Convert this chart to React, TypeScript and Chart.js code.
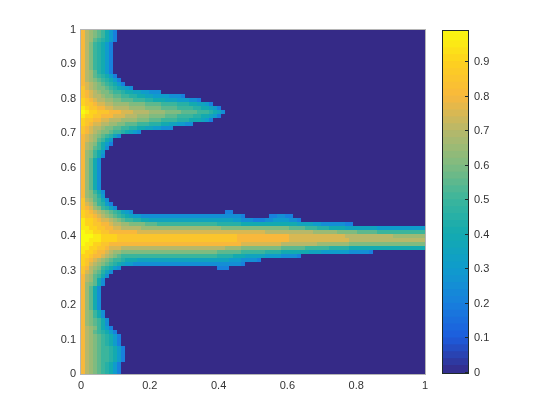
import React, { useEffect, useRef } from "react";
import { Chart, registerables } from "chart.js";

Chart.register(...registerables);

const GRID_SIZE = 86;
const LEVEL_CODES = "0123456789abcdefghijk";
const LEVEL_STEP = 0.05;
const DATA_MAX = 0.99;

// One string per row, top row first, one character per cell; cells after the end of a string are 0.
const HEAT_ROWS: string[] = [
  "gedcba864",
  "gedcba864",
  "gedba9864",
  "geca9864",
  "geca9864",
  "geca9864",
  "geca9864",
  "geca9864",
  "geca9864",
  "geca9864",
  "gedb9864",
  "gedba9864",
  "gedcba9864",
  "gfedcba9864",
  "hfedccba98765",
  "hgfedccbaa9887766555",
  "hgfeedccbbaa99887766665554",
  "ihgfeeddccbbbaaa99888777666554",
  "ihhgffeedd" + "ddccccbbbb" + "aaaa999887" + "764",
  "jihhggffee" + "eeddddcccc" + "bbbbaaaa99" + "887" + "64",
  "kjiihhhggg" + "fffeeeeddd" + "dccccbbbba" + "aa9875",
  "jiihhgggff" + "feeedddccc" + "cbbbaaaa99" + "887" + "64",
  "ihhggffeee" + "ddddcccbbb" + "aaaa999888" + "764",
  "ihgffeeddc" + "cbbbaaa999" + "88776655",
  "hgfeedccbb" + "aa99887766" + "555",
  "hgfedccbaa" + "98765",
  "gfedcba975",
  "gfedba86",
  "gedca864",
  "gedba85",
  "gdca86",
  "gdca85",
  "gdb85",
  "gdb85",
  "gdb85",
  "gdb85",
  "gdb85",
  "gdb85",
  "gdb85",
  "gdb85",
  "gdca85",
  "gdcb96",
  "hedba85",
  "hfeca964",
  "hgfdca975",
  "ihgfedcba9765" + "00000000000000000000000" + "44",
  "ihhgfedcba" + "9876655555" + "5555555555" + "5555555555" + "4" + "000000" + "445544",
  "jiihgffedc" + "baa9988777" + "7777777777" + "7777777766" + "5554445566" + "66554",
  "jiihhggfee" + "ddccccbbba" + "aaaaaaaaaa" + "aaaa999999" + "8888888888" + "8888777766" + "55555544",
  "jjiihhggff" + "eeeeeddddd" + "dddddddddd" + "dddddccccc" + "cccccccccc" + "ccbbbbaaa9" + "9988887777" + "7777666666" + "666666",
  "kjjiihhggg" + "ggggffffff" + "ffffffffff" + "ffffffffff" + "ffffffeeee" + "eeeeeeeedd" + "ddddcccccb" + "bbbbaaaaaa" + "aaaaaa",
  "kkkjjiiiih" + "hhhhhhhhhh" + "hhhhhhhhhh" + "hhhhhhhhhg" + "gggggggggg" + "ggffffffff" + "ffffffeeee" + "eeeeeeeedd" + "dddddd",
  "kkjjjiiiih" + "hhhhhhhhhh" + "hhhhhhhhhh" + "hhhhhhhhhg" + "gggggggggg" + "ggffffffff" + "fffffffeee" + "eeeeeeeeee" + "eeeeee",
  "kjjiihhggg" + "gggggggggg" + "gggggggggg" + "gggggggggg" + "ffffffffff" + "eeeeeeeeed" + "dddddddccc" + "cccccccccc" + "cccccc",
  "jjiihhgfff" + "eeeeeeeeee" + "eeeeeeeeee" + "eeeeeedddd" + "cccccccccc" + "bbbbbbaaaa" + "aa99999888" + "8888888888" + "888888",
  "jiihggfedd" + "cccccccccc" + "cccccccccc" + "ccccbbbbbb" + "aaaaaa9999" + "8888888777" + "6666666555" + "554",
  "iihggfedcb" + "aaaaaaaaaa" + "aaaaaaaaaa" + "aaaa999988" + "8777776666" + "55554",
  "ihgfedcbaa" + "9888777777" + "7777777777" + "7777777666" + "55554",
  "ihfedcba98" + "7665555555" + "5555555555" + "5555555555" + "4",
  "hgedca9865" + "000000000000000000000000" + "444",
  "hfecb975",
  "gedba85",
  "gedb85",
  "gdcb85",
  "gdb85",
  "gdb85",
  "gdb85",
  "gdb85",
  "gdb85",
  "gdb85",
  "gdca85",
  "gdca85",
  "gdcba85",
  "gdcba85",
  "gedca864",
  "gedba9864",
  "gedcba9864",
  "gedcba9864",
  "gedcba9864",
  "gedcbaa9864",
  "gedcbaa9864",
  "gedcbaa9864",
  "gedcbaa9864",
  "gedcba9864",
  "gedcba9864",
  "gedcba9864",
];

const COLORBAR_LEVELS = [
  0, 0.02, 0.04, 0.06, 0.08, 0.1, 0.12, 0.14, 0.16, 0.18, 0.2, 0.22, 0.24, 0.26, 0.28, 0.3, 0.32, 0.34, 0.36, 0.38,
  0.4, 0.42, 0.44, 0.46, 0.48, 0.5, 0.52, 0.54, 0.56, 0.58, 0.6, 0.62, 0.64, 0.66, 0.68, 0.7, 0.72, 0.74, 0.76, 0.78,
  0.8, 0.82, 0.84, 0.86, 0.88, 0.9, 0.92, 0.94, 0.96, 0.97,
];
const COLORBAR_BAND = 0.02;

const X_TICKS = [0, 0.2, 0.4, 0.6, 0.8, 1];
const Y_TICKS = [0, 0.1, 0.2, 0.3, 0.4, 0.5, 0.6, 0.7, 0.8, 0.9, 1];
const COLORBAR_TICKS = [0, 0.1, 0.2, 0.3, 0.4, 0.5, 0.6, 0.7, 0.8, 0.9];

// Colours at 0, 0.1, ... 0.9 and at its top.
const COLORMAP_VALUES = [0, 0.1, 0.2, 0.3, 0.4, 0.5, 0.6, 0.7, 0.8, 0.9, 0.99];
const COLORMAP_RGB = [
  [53, 42, 135],
  [28, 92, 221],
  [24, 128, 221],
  [15, 156, 204],
  [19, 170, 176],
  [59, 181, 156],
  [127, 187, 128],
  [183, 184, 106],
  [248, 184, 60],
  [253, 210, 30],
  [249, 251, 14],
];

const TEXT_COLOR = "#333333";
const FONT = { family: "'Liberation Sans', Arial, sans-serif", size: 11 };

function colorFor(value: number): string {
  const v = Math.min(DATA_MAX, Math.max(0, value));
  let i = 0;
  while (i < COLORMAP_VALUES.length - 2 && v > COLORMAP_VALUES[i + 1]) i++;
  const f = (v - COLORMAP_VALUES[i]) / (COLORMAP_VALUES[i + 1] - COLORMAP_VALUES[i]);
  const c = COLORMAP_RGB[i].map((p, k) => Math.round(p + (COLORMAP_RGB[i + 1][k] - p) * f));
  return `rgb(${c[0]},${c[1]},${c[2]})`;
}

const cellValue = (row: number, col: number): number => {
  const code = HEAT_ROWS[row][col];
  return code ? Math.min(DATA_MAX, LEVEL_CODES.indexOf(code) * LEVEL_STEP) : 0;
};

const tickLabel = (v: number | string) => String(Number(Number(v).toFixed(1)));

const setTicks = (values: number[]) => (scale: any) => {
  scale.ticks = values.map((value) => ({ value }));
};

const frame = (color: string, yTicks: number[]) => ({
  id: "frame",
  afterDatasetsDraw(chart: any) {
    const { ctx, chartArea: a, scales } = chart;
    ctx.save();
    ctx.strokeStyle = color;
    ctx.lineWidth = 1;
    ctx.strokeRect(Math.round(a.left) - 0.5, Math.round(a.top) - 0.5, a.width + 1, a.height + 1);
    ctx.beginPath();
    yTicks.forEach((v) => {
      const y = Math.round(scales.y.getPixelForValue(v)) - 0.5;
      ctx.moveTo(a.right, y);
      ctx.lineTo(a.right - 3, y);
    });
    ctx.stroke();
    ctx.restore();
  },
});

export default function App() {
  const heatRef = useRef<HTMLCanvasElement>(null);
  const barRef = useRef<HTMLCanvasElement>(null);

  useEffect(() => {
    const points: { x: number; y: number }[] = [];
    const colors: string[] = [];
    for (let row = 0; row < GRID_SIZE; row++) {
      for (let col = 0; col < GRID_SIZE; col++) {
        points.push({ x: (col + 0.5) / GRID_SIZE, y: 1 - (row + 0.5) / GRID_SIZE });
        colors.push(colorFor(cellValue(row, col)));
      }
    }

    const heat = new Chart(heatRef.current!, {
      type: "scatter",
      data: {
        datasets: [
          {
            data: points,
            pointStyle: "rect",
            pointRadius: 2 * Math.SQRT2,
            pointHoverRadius: 2 * Math.SQRT2,
            pointBorderWidth: 0,
            borderWidth: 0,
            backgroundColor: colors,
            clip: 0,
          } as any,
        ],
      },
      options: {
        animation: false,
        responsive: false,
        events: [],
        layout: { padding: { left: 51, right: 135, top: 30, bottom: 16 } },
        plugins: { legend: { display: false }, tooltip: { enabled: false } },
        scales: {
          x: {
            type: "linear",
            min: 0,
            max: 1,
            grid: { display: false, drawTicks: false },
            border: { display: false },
            afterBuildTicks: setTicks(X_TICKS),
            afterFit: (s: any) => {
              s.height = 30;
            },
            ticks: { color: TEXT_COLOR, font: FONT, padding: 5, maxRotation: 0, autoSkip: false, callback: tickLabel },
          },
          y: {
            type: "linear",
            min: 0,
            max: 1,
            grid: { display: false, drawTicks: false },
            border: { display: false },
            afterBuildTicks: setTicks(Y_TICKS),
            afterFit: (s: any) => {
              s.width = 30;
            },
            ticks: { color: TEXT_COLOR, font: FONT, padding: 5, autoSkip: false, callback: tickLabel },
          },
        },
      },
      plugins: [frame("rgba(70,70,70,0.4)", [])],
    } as any);

    const bar = new Chart(barRef.current!, {
      type: "bar",
      data: {
        labels: ["colorbar"],
        datasets: COLORBAR_LEVELS.map((level) => ({
          data: [[level, Math.min(DATA_MAX, level + COLORBAR_BAND + 0.002)]],
          backgroundColor: colorFor(level + COLORBAR_BAND / 2),
          barPercentage: 1,
          categoryPercentage: 1,
          grouped: false,
        })) as any,
      },
      options: {
        animation: false,
        responsive: false,
        events: [],
        layout: { padding: { left: 443, right: 62, top: 31, bottom: 47 } },
        plugins: { legend: { display: false }, tooltip: { enabled: false } },
        scales: {
          x: { display: false },
          y: {
            type: "linear",
            position: "right",
            min: 0,
            max: DATA_MAX,
            grid: { display: false, drawTicks: false },
            border: { display: false },
            afterBuildTicks: setTicks(COLORBAR_TICKS),
            afterFit: (s: any) => {
              s.width = 30;
            },
            ticks: { color: TEXT_COLOR, font: FONT, padding: 6, autoSkip: false, callback: tickLabel },
          },
        },
      },
      plugins: [frame("#1f2a2a", COLORBAR_TICKS)],
    } as any);

    return () => {
      heat.destroy();
      bar.destroy();
    };
  }, []);

  const canvasStyle: React.CSSProperties = { position: "absolute", left: 0, top: 0 };
  return (
    <div style={{ position: "absolute", left: 0, top: 0, width: 560, height: 420, background: "#fff" }}>
      <canvas ref={heatRef} width={560} height={420} style={canvasStyle} />
      <canvas ref={barRef} width={560} height={420} style={canvasStyle} />
    </div>
  );
}
